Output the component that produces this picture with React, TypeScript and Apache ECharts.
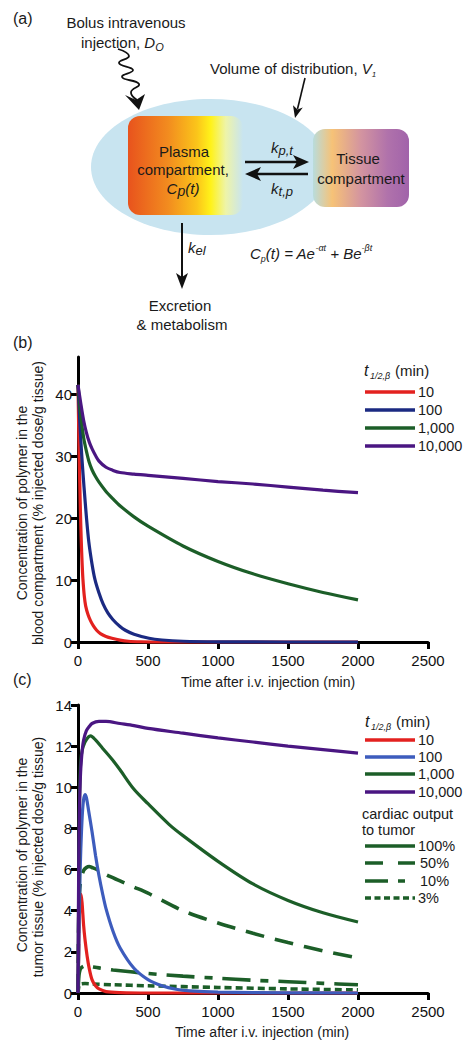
import React, { useEffect, useRef } from "react";
import * as echarts from "echarts";

const FONT = '"Liberation Sans", Arial, Helvetica, sans-serif';

// ---- axis ticks / legend labels ----
const TIME_MAX = 2500;
const TIME_STEP = 500;
const BLOOD_Y_TICKS = [0, 10, 20, 30, 40];
const TUMOR_Y_TICKS = [0, 2, 4, 6, 8, 10, 12, 14];
const HALF_LIVES = ["10", "100", "1,000", "10,000"];
const CARDIAC_OUTPUT = ["100%", "50%", "10%", "3%"];

// ---- (b) blood compartment: [time (min), % injected dose/g tissue] ----
const blood10: [number, number][] = [
  [0, 41.5], [5, 34.5], [10, 28.5], [15, 23.2], [20, 18.8], [25, 15.2], [30, 12.4], [35, 10.2],
  [45, 7.4], [55, 5.8], [72, 4.4], [90, 3.4], [110, 2.6], [133, 1.9], [160, 1.35], [200, 0.9],
  [242, 0.6], [300, 0.3], [360, 0.12], [450, 0.04], [600, 0], [1000, 0], [1500, 0], [2000, 0],
];
const blood100: [number, number][] = [
  [0, 41.5], [10, 36.8], [20, 32.6], [30, 29], [43, 25], [60, 20.2], [77, 16.2], [100, 12.6],
  [121, 10.1], [150, 7.9], [180, 6.1], [213, 4.7], [250, 3.6], [300, 2.5], [338, 1.9],
  [400, 1.25], [507, 0.6], [600, 0.32], [750, 0.12], [1000, 0.03], [1500, 0], [2000, 0],
];
const blood1000: [number, number][] = [
  [0, 41.5], [20, 36.5], [40, 33], [60, 30.8], [80, 29], [100, 27.8], [125, 26.7],
  [150, 25.8], [200, 24.3], [250, 23.1], [300, 22], [400, 20.2], [500, 18.7], [750, 15.5],
  [1000, 13], [1250, 11], [1500, 9.4], [1750, 8], [2000, 6.8],
];
const blood10000: [number, number][] = [
  [0, 41.5], [20, 38.5], [40, 35.8], [60, 33.8], [80, 32.3], [100, 31.2], [125, 30.1],
  [150, 29.2], [200, 28.2], [250, 27.7], [300, 27.35], [400, 27.1], [500, 26.9], [750, 26.4],
  [1000, 25.9], [1250, 25.5], [1500, 25.0], [1750, 24.5], [2000, 24.1],
];

// ---- (c) tumor tissue ----
const tumor10: [number, number][] = [
  [0, 0], [5, 2], [10, 3.8], [15, 4.5], [22, 4.8], [30, 4.3], [40, 3.3], [50, 2.6],
  [65, 1.8], [80, 1.2], [100, 0.65], [125, 0.35], [150, 0.2], [200, 0.07], [300, 0.02],
  [500, 0], [1000, 0], [2000, 0],
];
const tumor100: [number, number][] = [
  [0, 0], [5, 2], [10, 4], [15, 5.8], [20, 7], [30, 8.6], [40, 9.4], [50, 9.65], [60, 9.5],
  [75, 8.9], [100, 7.85], [125, 6.7], [150, 5.7], [175, 4.85], [200, 4.1], [250, 3.0],
  [300, 2.2], [400, 1.2], [500, 0.65], [600, 0.35], [700, 0.18], [800, 0.1], [1000, 0.04],
  [1500, 0.01], [2000, 0],
];
const tumor1000: [number, number][] = [
  [0, 0], [5, 5], [10, 9], [15, 10.6], [20, 11.3], [30, 11.8], [50, 12.2], [75, 12.45],
  [90, 12.5], [125, 12.3], [175, 11.9], [250, 11.3], [300, 10.85], [400, 9.9], [500, 9.2],
  [650, 8.2], [750, 7.65], [1000, 6.4], [1250, 5.3], [1500, 4.5], [1750, 3.9], [2000, 3.45],
];
const tumor10000: [number, number][] = [
  [0, 0], [3, 4], [6, 6.8], [10, 8.8], [15, 10.1], [20, 10.9], [30, 11.8], [40, 12.3],
  [60, 12.75], [80, 12.95], [100, 13.1], [150, 13.2], [200, 13.2], [300, 13.1], [400, 13.0],
  [500, 12.86], [750, 12.63], [1000, 12.4], [1250, 12.2], [1500, 12.0], [1750, 11.83],
  [2000, 11.66],
];
const tumorCO50: [number, number][] = [
  [0, 0], [5, 3.5], [10, 4.8], [20, 5.5], [40, 5.95], [60, 6.1], [80, 6.15], [100, 6.1],
  [150, 5.95], [200, 5.75], [300, 5.45], [400, 5.15], [500, 4.85], [750, 4.0], [1000, 3.4],
  [1250, 2.9], [1500, 2.45], [1750, 2.05], [2000, 1.7],
];
const tumorCO10: [number, number][] = [
  [0, 0], [5, 0.7], [10, 1.0], [20, 1.2], [40, 1.3], [60, 1.32], [80, 1.3], [150, 1.22],
  [250, 1.12], [500, 0.95], [750, 0.82], [1000, 0.72], [1250, 0.62], [1500, 0.55],
  [1750, 0.47], [2000, 0.4],
];
const tumorCO3: [number, number][] = [
  [0, 0], [5, 0.3], [10, 0.4], [20, 0.44], [50, 0.46], [100, 0.44], [250, 0.4], [500, 0.35],
  [1000, 0.27], [1500, 0.2], [2000, 0.15],
];

const RED = "#e3211f";
const NAVY = "#1b2a82";
const BLUE = "#3d5cbd";
const GREEN = "#1c5e28";
const PURPLE = "#4a1682";

const DASH50 = [19, 11];
const DASH10 = [28, 10, 8, 10];
const DOT3 = [7, 4];

function text(x: number, y: number, str: string, extra: any = {}, el: any = {}) {
  const align = extra.align || "center";
  const va = extra.verticalAlign || "middle";
  return {
    type: "text",
    x,
    y,
    silent: true,
    ...el,
    style: {
      text: str,
      fontFamily: FONT,
      fontSize: 14,
      fill: "#1a1a1a",
      ...extra,
      align,
      verticalAlign: va,
      textAlign: align,
      textVerticalAlign: va,
    },
  };
}

function line(x1: number, y1: number, x2: number, y2: number, color: string, width: number, dash?: number[]) {
  return {
    type: "line",
    silent: true,
    shape: { x1, y1, x2, y2 },
    style: { stroke: color, lineWidth: width, lineDash: dash || null, lineCap: "butt" },
  };
}

function poly(points: number[][], color = "#111") {
  return { type: "polygon", silent: true, shape: { points }, style: { fill: color } };
}

function axisCommon() {
  return {
    axisLine: { show: true, onZero: false, lineStyle: { color: "#000", width: 3 } },
    axisTick: { show: true, length: 7, lineStyle: { color: "#000", width: 3 } },
    axisLabel: { fontFamily: FONT, fontSize: 15, color: "#111", formatter: (v: number) => String(v) },
    splitLine: { show: false },
  };
}

function xAxis(gridIndex: number) {
  const c = axisCommon();
  return {
    type: "value",
    gridIndex,
    min: 0,
    max: TIME_MAX,
    interval: TIME_STEP,
    ...c,
    axisLabel: { ...c.axisLabel, margin: 11 },
  };
}

function yAxis(gridIndex: number, max: number, ticks: number[]) {
  const c = axisCommon();
  return {
    type: "value",
    gridIndex,
    min: 0,
    max,
    ...c,
    axisTick: { ...c.axisTick, customValues: ticks },
    axisLabel: { ...c.axisLabel, customValues: ticks, margin: 6 },
  };
}

function series(data: [number, number][], color: string, idx: number, dash?: number[], width = 3.2) {
  return {
    type: "line",
    xAxisIndex: idx,
    yAxisIndex: idx,
    data,
    showSymbol: false,
    symbol: "none",
    smooth: 0.3,
    clip: false,
    lineStyle: { color, width, type: dash || "solid", cap: "butt" },
    emphasis: { disabled: true },
  };
}

const SUB = { fontFamily: FONT, fontStyle: "italic", fontSize: 10, lineHeight: 10, verticalAlign: "bottom", fill: "#1a1a1a" };
const IT = { fontFamily: FONT, fontStyle: "italic", fontSize: 15, lineHeight: 20, verticalAlign: "middle", fill: "#1a1a1a" };
const SUP = { fontFamily: FONT, fontStyle: "italic", fontSize: 9, lineHeight: 9, verticalAlign: "top", fill: "#1a1a1a" };

function legendTitle(x: number, y: number) {
  return [
    text(x, y, "t", { fontStyle: "italic", fontSize: 16, align: "left" }),
    text(x + 6, y + 6, "1/2,β", { fontStyle: "italic", fontSize: 9, align: "left" }),
    text(x + 31, y, "(min)", { fontSize: 15, align: "left" }),
  ];
}

function legendItem(y: number, color: string, label: string, dash?: number[], labelX = 418) {
  return [line(365, y, 415, y, color, 3.6, dash), text(labelX, y, label, { align: "left", fontSize: 14.5 })];
}

function buildGraphics() {
  const g: any[] = [];
  // ---------- (a) diagram ----------
  g.push(text(13, 18, "(a)", { align: "left", fontSize: 16 }));
  g.push(text(126, 22, "Bolus intravenous", { fontSize: 15 }));
  g.push(
    text(81, 42, "injection, {i|D}{s|O}", {
      align: "left",
      fontSize: 15,
      rich: { i: { ...IT, fontSize: 15 }, s: { ...SUB, fontSize: 11, lineHeight: 12 } },
    })
  );
  g.push(
    text(210, 68, "Volume of distribution, {i|V}{s|1}", {
      align: "left",
      fontSize: 15,
      rich: { i: { ...IT, fontSize: 15 }, s: { ...SUB, fontSize: 8, lineHeight: 8 } },
    })
  );
  // ellipse (volume of distribution)
  g.push({
    type: "ellipse",
    silent: true,
    shape: { cx: 210, cy: 167, rx: 119, ry: 68 },
    style: { fill: "#c8e4f0" },
  });
  // plasma compartment
  g.push({
    type: "rect",
    silent: true,
    shape: { x: 128, y: 116, width: 115, height: 99, r: 12 },
    style: {
      fill: {
        type: "linear",
        x: 0, y: 0, x2: 1, y2: 0,
        colorStops: [
          { offset: 0, color: "#e8531d" },
          { offset: 0.35, color: "#f28c1f" },
          { offset: 0.6, color: "#fbc51a" },
          { offset: 0.72, color: "#fff21a" },
          { offset: 0.85, color: "#eef4a8" },
          { offset: 1, color: "#c8e4f0" },
        ],
      },
    },
  });
  // tissue compartment
  g.push({
    type: "rect",
    silent: true,
    shape: { x: 313, y: 129, width: 96, height: 78, r: 12 },
    style: {
      fill: {
        type: "linear",
        x: 0, y: 0, x2: 1, y2: 0,
        colorStops: [
          { offset: 0, color: "#b9dcdc" },
          { offset: 0.2, color: "#f6c277" },
          { offset: 0.5, color: "#d394a0" },
          { offset: 0.78, color: "#b072ab" },
          { offset: 1, color: "#a163aa" },
        ],
      },
    },
  });
  g.push(text(184, 151, "Plasma", { fontSize: 15 }));
  g.push(text(183, 169, "compartment,", { fontSize: 15 }));
  g.push(
    text(183, 188, "{i|C}{s|p}{i|(t)}", {
      rich: { i: { ...IT, fontSize: 15 }, s: { ...SUB, fontSize: 14, lineHeight: 14 } },
    })
  );
  g.push(text(358, 158, "Tissue", { fontSize: 15 }));
  g.push(text(361, 178, "compartment", { fontSize: 15 }));
  // exchange arrows
  g.push(line(245, 162, 300, 162, "#111", 2.6));
  g.push(poly([[309, 162], [293, 155], [297, 162], [293, 169]]));
  g.push(line(254, 174, 308, 174, "#111", 2.6));
  g.push(poly([[245, 174], [261, 167], [257, 174], [261, 181]]));
  g.push(
    text(282, 147, "{i|k}{s|p,t}", {
      rich: { i: { ...IT, fontSize: 15 }, s: { ...SUB, fontSize: 13, lineHeight: 13 } },
    })
  );
  g.push(
    text(282, 188, "{i|k}{s|t,p}", {
      rich: { i: { ...IT, fontSize: 15 }, s: { ...SUB, fontSize: 13, lineHeight: 13 } },
    })
  );
  // elimination arrow
  g.push(line(182, 223, 182, 280, "#111", 2));
  g.push(poly([[182, 289], [176, 273], [182, 277], [188, 273]]));
  g.push(
    text(188, 247, "{i|k}{s|el}", {
      align: "left",
      rich: { i: { ...IT, fontSize: 15 }, s: { ...SUB, fontSize: 13, lineHeight: 13 } },
    })
  );
  g.push(text(180, 305, "Excretion", { fontSize: 15 }));
  g.push(text(182, 324, "& metabolism", { fontSize: 15 }));
  // volume-of-distribution arrow
  g.push(line(305, 78, 297.5, 109, "#111", 1.6));
  g.push(poly([[295, 118], [302.8, 107.6], [297.5, 109.5], [293, 105.2]]));
  // bolus squiggle arrow
  g.push({
    type: "polyline",
    silent: true,
    shape: {
      points: [[118, 49], [129, 56], [119, 63], [133, 70], [122, 77], [139, 84], [131, 92], [137, 100]],
      smooth: 0.5,
    },
    style: { stroke: "#111", lineWidth: 1.8, fill: null },
  });
  g.push(poly([[139, 110], [125, 95], [136, 100], [145, 94]]));
  // formula
  g.push(
    text(250, 253, "{i|C}{s|p}{i|(t) = Ae}{u|-αt}{i| + Be}{u|-βt}", {
      align: "left",
      rich: { i: IT, s: { ...SUB, fontSize: 9, lineHeight: 9 }, u: SUP },
    })
  );

  // ---------- (b) ----------
  g.push(text(13, 342, "(b)", { align: "left", fontSize: 16 }));
  g.push(text(22, 503, "Concentration of polymer in the", {}, { rotation: Math.PI / 2 }));
  g.push(text(38, 503, "blood compartment (% injected dose/g tissue)", {}, { rotation: Math.PI / 2 }));
  g.push(text(268, 682, "Time after i.v. injection (min)"));
  g.push(...legendTitle(364, 370));
  const bColors = [RED, NAVY, GREEN, PURPLE];
  [392, 410, 428, 446].forEach((y, i) => g.push(...legendItem(y, bColors[i], HALF_LIVES[i])));

  // ---------- (c) ----------
  g.push(text(13, 679, "(c)", { align: "left", fontSize: 16 }));
  g.push(text(22, 855, "Concentration of polymer in the", {}, { rotation: Math.PI / 2 }));
  g.push(text(38, 857, "tumor tissue (% injected dose/g tissue)", {}, { rotation: Math.PI / 2 }));
  g.push(text(262, 1032, "Time after i.v. injection (min)"));
  g.push(...legendTitle(365, 721));
  const cColors = [RED, BLUE, GREEN, PURPLE];
  [740, 757, 774, 792].forEach((y, i) => g.push(...legendItem(y, cColors[i], HALF_LIVES[i])));
  g.push(text(362, 814, "cardiac output", { align: "left", fontSize: 14.5 }));
  g.push(text(362, 830, "to tumor", { align: "left", fontSize: 14.5 }));
  const coDash = [undefined, [18, 15], [23, 10, 7, 10], [6, 3.5]];
  const coLabelX = [418, 420, 420, 418];
  [846, 863, 881, 898].forEach((y, i) =>
    g.push(...legendItem(y, GREEN, CARDIAC_OUTPUT[i], coDash[i], coLabelX[i]))
  );
  return g;
}

export default function App() {
  const ref = useRef<HTMLDivElement>(null);
  useEffect(() => {
    if (!ref.current) return;
    document.body.style.margin = "0";
    const chart = echarts.init(ref.current, null, { renderer: "svg" });
    chart.setOption({
      animation: false,
      backgroundColor: "#ffffff",
      grid: [
        { left: 78, top: 357, width: 350, height: 285, containLabel: false, outerBoundsMode: "none" },
        { left: 78, top: 705, width: 350, height: 288, containLabel: false, outerBoundsMode: "none" },
      ],
      xAxis: [xAxis(0), xAxis(1)],
      yAxis: [yAxis(0, 46, BLOOD_Y_TICKS), yAxis(1, 14, TUMOR_Y_TICKS)],
      series: [
        series(blood10, RED, 0),
        series(blood100, NAVY, 0),
        series(blood1000, GREEN, 0),
        series(blood10000, PURPLE, 0),
        series(tumorCO3, GREEN, 1, DOT3, 3.6),
        series(tumorCO10, GREEN, 1, DASH10, 3.6),
        series(tumorCO50, GREEN, 1, DASH50, 3.6),
        series(tumor10, RED, 1),
        series(tumor100, BLUE, 1),
        series(tumor1000, GREEN, 1),
        series(tumor10000, PURPLE, 1),
      ],
      graphic: buildGraphics(),
    });
    return () => chart.dispose();
  }, []);
  return (
    <div
      ref={ref}
      style={{ position: "absolute", left: 0, top: 0, width: 474, height: 1050, background: "#fff" }}
    />
  );
}
